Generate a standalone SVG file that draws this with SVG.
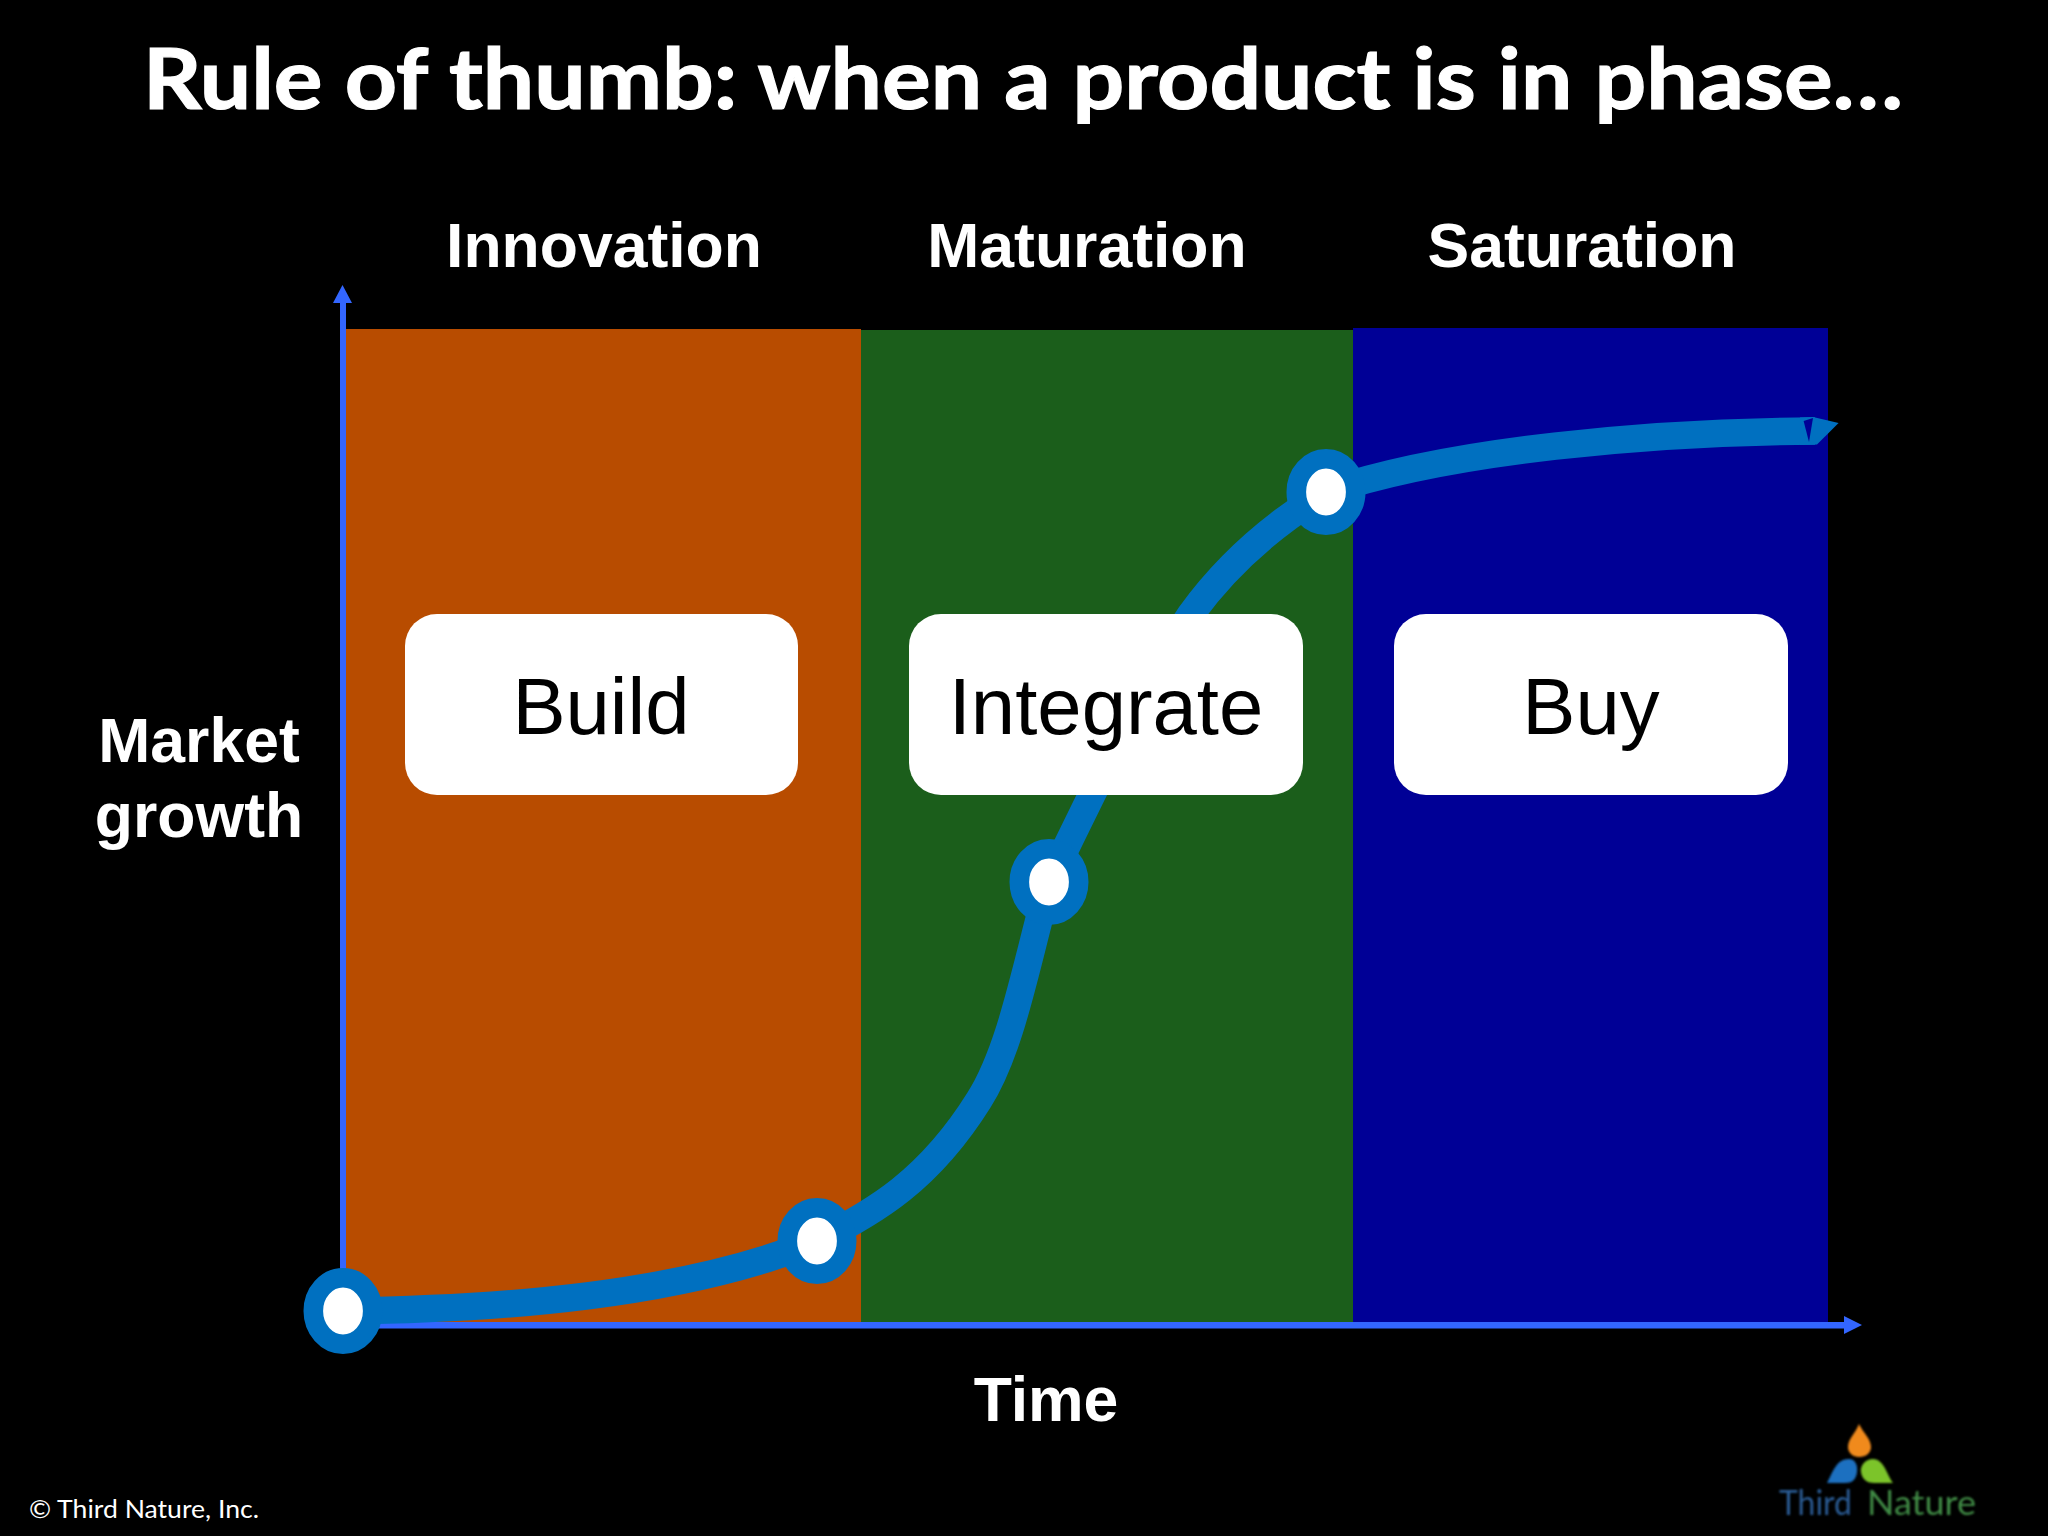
<svg xmlns="http://www.w3.org/2000/svg" width="2048" height="1536" viewBox="0 0 2048 1536">
<defs>
<style>
.h{font-family:"Liberation Sans",Arial,sans-serif;font-weight:700;font-size:62.5px;fill:#fff;text-anchor:middle}
.b{font-family:"Liberation Sans",Arial,sans-serif;font-size:79.7px;fill:#000;text-anchor:middle}
.box{fill:#fff}
.dot{fill:#fff;stroke:#0070c0;stroke-width:19.6}
.ax{fill:#3366ff}
.l{font-family:Lato,"Noto Sans",sans-serif}
</style>
<filter id="soft" x="-5%" y="-5%" width="110%" height="110%"><feGaussianBlur stdDeviation="0.8"/></filter>
</defs>
<rect width="2048" height="1536" fill="#000"/>
<text x="1023" y="109" class="l" font-size="85" font-weight="700" fill="#fff" stroke="#fff" stroke-width="1.2" textLength="1760" lengthAdjust="spacingAndGlyphs" text-anchor="middle">Rule of thumb: when a product is in phase…</text>
<g id="phases">
<rect id="phase-innovation" x="346" y="329" width="515" height="993" fill="#b84c00"/>
<rect id="phase-maturation" x="861" y="330" width="492" height="992" fill="#1b5e1b"/>
<rect id="phase-saturation" x="1353" y="328" width="475" height="994" fill="#000096"/>
</g>
<text class="h" x="604" y="267">Innovation</text>
<text class="h" x="1087" y="267">Maturation</text>
<text class="h" x="1582" y="267">Saturation</text>
<g id="connectors">
<path class="ax" d="M340 1328.500V303H333L342.500 285L352 303H346V1322H1844V1316L1862 1325L1844 1334V1328.500Z"/>
<path fill="none" stroke="#0070c0" stroke-width="27.500" d="M343 1311C500 1309 680 1296 817 1241C875 1212 929 1180 979 1100C1012 1048 1027 960 1049 882C1090 800 1140 690 1191 614C1230 560 1280 520 1326 492C1450 450 1650 432 1815 431"/>
<path fill="#0070c0" d="M1813 417L1838.600 423L1817 444.500L1800 445V417.500Z"/>
<path fill="#000096" d="M1803.600 421L1813 418L1809 442Z"/>
</g>
<g id="point-1"><ellipse class="dot" cx="343" cy="1311" rx="29.700" ry="33.200"/></g>
<g id="point-2"><ellipse class="dot" cx="817" cy="1241" rx="29.700" ry="33.200"/></g>
<g id="point-3"><ellipse class="dot" cx="1049" cy="882" rx="29.700" ry="33.200"/></g>
<g id="point-4"><ellipse class="dot" cx="1326" cy="492" rx="29.700" ry="33.200"/></g>
<g id="build"><rect class="box" x="405" y="614" width="393" height="181" rx="32"/><text class="b" x="601" y="734">Build</text></g>
<g id="integrate"><rect class="box" x="909" y="614" width="394" height="181" rx="32"/><text class="b" x="1106" y="734">Integrate</text></g>
<g id="buy"><rect class="box" x="1394" y="614" width="394" height="181" rx="32"/><text class="b" x="1591" y="734">Buy</text></g>
<text class="h" x="199" y="762">Market</text>
<text class="h" x="199" y="837">growth</text>
<text class="h" x="1046" y="1421">Time</text>
<text x="29" y="1518" class="l" font-size="25" fill="#fff" textLength="230" lengthAdjust="spacingAndGlyphs">© Third Nature, Inc.</text>
<g id="logo" filter="url(#soft)">
<path fill="#f08a1e" d="M1859 1424C1864 1434 1871 1439 1871 1447C1871 1453 1866 1457 1859 1457C1853 1457 1848 1453 1848 1447C1848 1439 1855 1434 1859 1424Z"/>
<path fill="#1f6fc0" d="M1827 1483C1833 1472 1836 1459 1849 1459C1855 1459 1858 1465 1857 1472C1856 1480 1852 1483 1845 1483Z"/>
<path fill="#7cc42c" d="M1893 1483C1887 1475 1884 1459 1873 1459C1865 1459 1860 1466 1861 1472C1862 1480 1868 1483 1874 1483Z"/>
<text x="1779" y="1515" class="l" font-size="34" fill="#2a5c95" textLength="73" lengthAdjust="spacingAndGlyphs">Third</text>
<text x="1867" y="1515" class="l" font-size="34" fill="#3f8a45" textLength="109" lengthAdjust="spacingAndGlyphs">Nature</text>
</g>
</svg>
